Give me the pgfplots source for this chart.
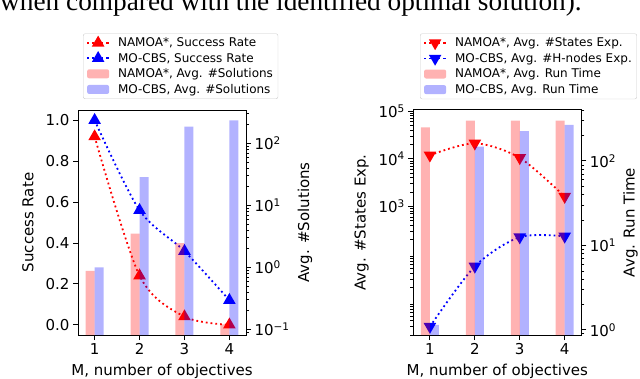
\documentclass[border=0pt]{standalone}
\usepackage{pgfplots}
\pgfplotsset{compat=1.18}
\usepackage{fontspec}
\setmainfont{DejaVu Sans}
\newfontfamily\timesfont{Liberation Serif}

\pgfplotsset{
  base/.style={scale only axis, width=168pt, height=225pt,
    xmin=0.63, xmax=4.37, anchor=south west,
    tick align=outside, major tick length=5pt, minor tick length=3pt,
    major tick style={black, line width=0.9pt},
    minor tick style={black, line width=0.6pt},
    axis line style={line width=1pt},
    tick label style={font=\fontsize{15}{18}\selectfont},
    label style={font=\fontsize{15}{18}\selectfont},
    /pgf/number format/assume math mode=true},
  sr/.style={line width=1.8pt, dash pattern=on 1.8pt off 3pt, smooth,
    mark=triangle*, mark size=5.5pt, mark options={solid}},
  bars/.style={ybar, bar width=0.2, bar shift=0pt, draw=none, fill opacity=0.3,
    legend image code/.code={\fill[##1] (0pt,-4.5pt) rectangle (22pt,4.5pt);}},
  lineleg/.style={legend image code/.code={%
    \draw[mark repeat=2, mark phase=2, ##1] plot coordinates {(0pt,0pt) (11pt,0pt) (22pt,0pt)};}},
  leg/.style={legend cell align=left,
    legend style={at={(#1,1.34)}, anchor=north west, draw=black!20,
      rounded corners=2pt, fill=white, font=\fontsize{12}{14}\selectfont,
      inner xsep=3pt, inner ysep=2pt, row sep=1pt,
      /tikz/every odd column/.append style={column sep=6pt}}},
}

\begin{document}
\begin{tikzpicture}
\useasboundingbox (0pt,0pt) rectangle (640pt,378pt);
\node[anchor=base west, inner sep=0pt, font=\timesfont\fontsize{27.3}{30}\selectfont]
  at (0pt,367pt) {when compared with the identified optimal solution).};

% ---- left panel: success rate + #solutions
\begin{axis}[base, at={(78pt,43pt)},
  ymin=-0.05, ymax=1.05, ytick={0,0.2,0.4,0.6,0.8,1.0},
  yticklabel style={/pgf/number format/.cd, fixed, fixed zerofill, precision=1},
  xtick={1,2,3,4}, tick pos=left,
  ylabel={Success Rate},
  ylabel style={at={(axis description cs:-0.298,0.5)}, anchor=center},
  xlabel={M, number of objectives},
  xlabel style={at={(axis description cs:0.5,-0.178)}, anchor=base}]
\addplot[sr, red] coordinates {(1,0.92) (2,0.24) (3,0.04) (4,0.0)};
\addplot[sr, blue] coordinates {(1,1.0) (2,0.56) (3,0.36) (4,0.12)};
\end{axis}
\begin{axis}[base, at={(78pt,43pt)}, axis x line=none, axis y line*=right,
  ymode=log, ymin=0.081, ymax=344, log origin y=infty,
  ytick={0.1,1,10,100},
  yticklabels={10\textsuperscript{−1},10\textsuperscript{0},10\textsuperscript{1},10\textsuperscript{2}},
  minor ytick={0.09,0.2,0.3,0.4,0.5,0.6,0.7,0.8,0.9,2,3,4,5,6,7,8,9,20,30,40,50,60,70,80,90,200,300},
  ylabel={Avg. \#Solutions},
  ylabel style={at={(axis description cs:1.351,0.5)}, anchor=center},
  leg=0.03]
\addlegendimage{lineleg, sr, red}
\addlegendentry{NAMOA*, Success Rate}
\addlegendimage{lineleg, sr, blue}
\addlegendentry{MO-CBS, Success Rate}
\addplot[bars, fill=red] coordinates {(0.9,0.88) (1.9,3.5) (2.9,2.45) (3.9,0.12)};
\addlegendentry{NAMOA*, Avg. \#Solutions}
\addplot[bars, fill=blue] coordinates {(1.1,1.0) (2.1,28.5) (3.1,185) (4.1,235)};
\addlegendentry{MO-CBS, Avg. \#Solutions}
\end{axis}

% ---- right panel: expansions + run time
\begin{axis}[base, at={(413.3pt,43pt)},
  ymode=log, ymin=2.0, ymax=1.05e5,
  ytick={1000,10000,100000},
  yticklabels={10\textsuperscript{3},10\textsuperscript{4},10\textsuperscript{5}},
  minor ytick={2,3,4,5,6,7,8,9,20,30,40,50,60,70,80,90,200,300,400,500,600,700,800,900,
    2000,3000,4000,5000,6000,7000,8000,9000,20000,30000,40000,50000,60000,70000,80000,90000},
  xtick={1,2,3,4}, tick pos=left,
  ylabel={Avg. \#States Exp.},
  ylabel style={at={(axis description cs:-0.308,0.5)}, anchor=center},
  xlabel={M, number of objectives},
  xlabel style={at={(axis description cs:0.5,-0.178)}, anchor=base}]
\addplot[sr, red, mark options={solid, rotate=180}] coordinates {(1,11800) (2,21000) (3,10400) (4,1600)};
\addplot[sr, blue, mark options={solid, rotate=180}] coordinates {(1,3.0) (2,55) (3,226) (4,235)};
\end{axis}
\begin{axis}[base, at={(413.3pt,43pt)}, axis x line=none, axis y line*=right,
  ymode=log, ymin=0.87, ymax=401, log origin y=infty,
  ytick={1,10,100},
  yticklabels={10\textsuperscript{0},10\textsuperscript{1},10\textsuperscript{2}},
  minor ytick={0.9,2,3,4,5,6,7,8,9,20,30,40,50,60,70,80,90,200,300,400},
  ylabel={Avg. Run Time},
  ylabel style={at={(axis description cs:1.292,0.5)}, anchor=center},
  leg=0.04]
\addlegendimage{lineleg, sr, red, mark options={solid, rotate=180}}
\addlegendentry{NAMOA*, Avg. \#States Exp.}
\addlegendimage{lineleg, sr, blue, mark options={solid, rotate=180}}
\addlegendentry{MO-CBS, Avg. \#H-nodes Exp.}
\addplot[bars, fill=red] coordinates {(0.9,250) (1.9,300) (2.9,300) (3.9,300)};
\addlegendentry{NAMOA*, Avg. Run Time}
\addplot[bars, fill=blue] coordinates {(1.1,1.15) (2.1,148) (3.1,226) (4.1,267)};
\addlegendentry{MO-CBS, Avg. Run Time}
\end{axis}
\end{tikzpicture}
\end{document}
